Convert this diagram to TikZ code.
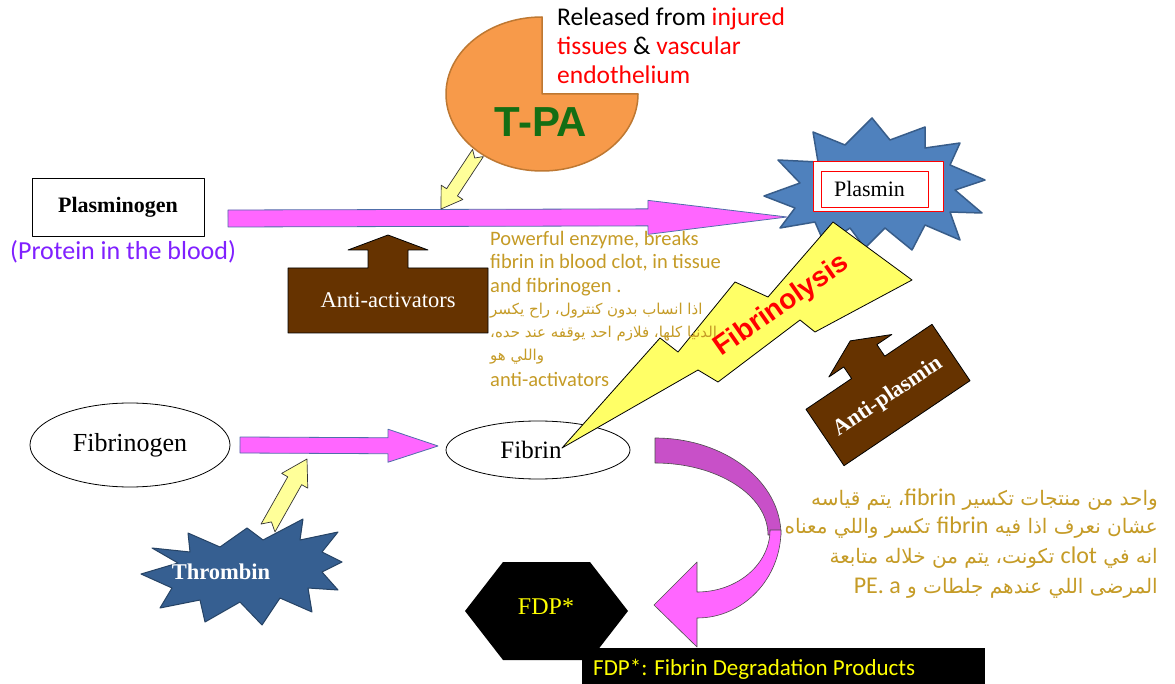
\documentclass[tikz,border=0pt]{standalone}
\usepackage{fontspec}
\setmainfont{Liberation Serif}
\newfontfamily\carlito{Carlito}
\newfontfamily\arialf{Liberation Sans}
\newfontfamily\arabicfont[Script=Arabic]{DejaVu Sans}
\TeXXeTstate=1
\usetikzlibrary{calc,shapes.geometric}
\definecolor{tpaOrange}{RGB}{247,154,74}
\definecolor{tpaEdge}{RGB}{190,120,50}
\definecolor{tpaGreen}{RGB}{20,110,20}
\definecolor{pinkA}{RGB}{255,102,255}
\definecolor{pinkEdge}{RGB}{80,110,170}
\definecolor{purpleA}{RGB}{200,80,200}
\definecolor{yellowA}{RGB}{255,255,153}
\definecolor{boltYellow}{RGB}{255,255,102}
\definecolor{brownA}{RGB}{102,51,0}
\definecolor{plBlue}{RGB}{79,129,189}
\definecolor{plBlueEdge}{RGB}{56,93,138}
\definecolor{thBlue}{RGB}{54,95,145}
\definecolor{goldT}{RGB}{197,155,38}
\definecolor{protPurple}{RGB}{128,32,255}
\definecolor{fdpYellow}{RGB}{255,255,0}
\newcommand\fsz[2]{\fontsize{#1pt}{#2pt}\selectfont}
\newcommand\blockarrow[8]{%
  \coordinate (#1h) at ($(#4)!#7!(#3)$);
  \coordinate (#1n) at ($(#3)!#8!(#4)$);
  \path[#2] ($(#3)!#5!90:(#4)$) -- ($(#1h)!#5!90:(#4)$) -- ($(#1h)!#6!90:(#4)$) -- (#4)
    -- ($(#1h)!#6!-90:(#4)$) -- ($(#1h)!#5!-90:(#4)$) -- ($(#3)!#5!-90:(#4)$) -- (#1n) -- cycle;}
\tikzset{
  pinkarrow/.style={fill=pinkA, draw=pinkEdge, line width=0.8pt},
  yelarrow/.style={fill=yellowA, draw=black!80, line width=0.7pt},
  brownshape/.style={fill=brownA, draw=black, line width=0.8pt},
  goldtext/.style={anchor=base west, inner sep=0pt, text=goldT, font=\carlito\fsz{20.5}{24}},
  goldar/.style={anchor=base west, inner sep=0pt, text=goldT, font=\arabicfont\fsz{15}{18}},
  brar/.style={anchor=base east, inner sep=0pt, text=goldT, font=\arabicfont\fsz{20}{24}},
  relt/.style={anchor=base west, inner sep=0pt, font=\carlito\fsz{25.5}{29}},
}
\newcommand\latin[1]{{\carlito\fsz{24}{28}\beginL #1\endL}}
\begin{document}
\begin{tikzpicture}[x=1pt,y=-1pt,line join=round]
\useasboundingbox (0,0) rectangle (1175,684);
\fill[white] (0,0) rectangle (1175,684);

% Plasmin burst
\filldraw[fill=plBlue, draw=plBlueEdge, line width=1.5pt]
 (764,196) -- (800,183) -- (778,160) -- (818,162) -- (813,132) -- (845,145) -- (872,118) -- (890,140)
 -- (925,127) -- (925,148) -- (960,143) -- (950,165) -- (985,180) -- (955,190) -- (982,213) -- (950,212)
 -- (960,240) -- (925,225) -- (912,250) -- (885,228) -- (865,248) -- (850,228) -- (825,245) -- (815,222)
 -- (780,228) -- (795,208) -- cycle;
\node[draw=red, fill=white, line width=1pt, minimum width=130pt, minimum height=50pt] (plbox) at (878,187) {};
\node[draw=red, line width=0.8pt, minimum width=107pt, minimum height=36pt, font=\fsz{22}{26}] (plasmin) at (874.5,189) {\kern-10pt Plasmin};

% T-PA pie
\filldraw[fill=tpaOrange, draw=tpaEdge, line width=1.5pt] (542,94) -- (638,94)
  arc[start angle=0, end angle=-270, x radius=96pt, y radius=77pt] -- cycle;
\node[font=\arialf\bfseries\fsz{42}{46}, text=tpaGreen] (tpa) at (541,122) {T-PA};
\node[relt] (rel1) at (557,26) {Released from \textcolor{red}{injured}};
\node[relt] (rel2) at (557,55) {\textcolor{red}{tissues} \& \textcolor{red}{vascular}};
\node[relt, text=red] (rel3) at (557,84) {endothelium};

% Plasminogen
\node[draw, line width=0.8pt, minimum width=172pt, minimum height=58pt, font=\bfseries\fsz{22}{26}] (plg) at (118,207) {Plasminogen};
\node[anchor=base west, inner sep=0pt, font=\carlito\fsz{26}{30}, text=protPurple] (prot) at (10,260) {(Protein in the blood)};

% pink arrow 1
\coordinate (pa1s) at (228,218.5);
\coordinate (pa1e) at (787,217);
\blockarrow{pa1}{pinkarrow}{pa1s}{pa1e}{8.5pt}{17pt}{139pt}{0pt}

% yellow arrow from T-PA
\coordinate (ya1s) at (478,153);
\coordinate (ya1e) at (441,209);
\blockarrow{ya1}{yelarrow}{ya1s}{ya1e}{6.5pt}{13pt}{20pt}{6pt}

% Anti-activators
\path[brownshape] (288,268) -- (368,268) -- (368,250) -- (348,250) -- (388,235) -- (428,250) -- (408,250)
  -- (408,268) -- (488,268) -- (488,333) -- (288,333) -- cycle;
\node[text=white, font=\fsz{22.5}{26}] (antiact) at (388,300) {Anti-activators};

% Fibrinogen
\node[draw, ellipse, line width=0.8pt, minimum width=200pt, minimum height=84pt, font=\fsz{26}{30}] (fbg) at (130,445) {Fibrinogen};
\coordinate (pa2s) at (240,445);
\coordinate (pa2e) at (438,446);
\blockarrow{pa2}{pinkarrow}{pa2s}{pa2e}{8pt}{16.5pt}{50pt}{0pt}

% Thrombin burst
\filldraw[fill=thBlue, draw=thBlue!70!black, line width=1pt]
 (141,574) -- (178,563) -- (152,548) -- (190,552) -- (188,533) -- (220,547) -- (247,528) -- (263,540)
 -- (303,519) -- (300,540) -- (338,532) -- (322,552) -- (342,562) -- (322,572) -- (338,590) -- (308,588)
 -- (312,612) -- (280,598) -- (262,625) -- (240,602) -- (205,622) -- (200,600) -- (160,608) -- (172,588) -- cycle;
\node[text=white, font=\bfseries\fsz{22.5}{26}] (thr) at (221,572) {Thrombin};
\coordinate (ya2s) at (268,528);
\coordinate (ya2e) at (307,459);
\blockarrow{ya2}{yelarrow}{ya2s}{ya2e}{8pt}{15pt}{25pt}{7pt}

% Fibrin
\node[draw, ellipse, line width=0.8pt, minimum width=184pt, minimum height=58pt, font=\fsz{25}{30}] (fib) at (538,450) {\kern-14pt Fibrin};

% Fibrinolysis bolt
\filldraw[fill=boltYellow, draw=black, line width=0.8pt]
 (562,448) -- (660,338) -- (678,352) -- (735,282) -- (768,297) -- (833,222) -- (912,280) -- (815,332)
 -- (800,320) -- (718,382) -- (698,370) -- cycle;
\node[rotate=35, text=red, font=\arialf\bfseries\fsz{28}{32}] (fbl) at (782,306) {Fibrinolysis};

% gold text
\node[goldtext] (pw1) at (490,246) {Powerful enzyme, breaks};
\node[goldtext] (pw2) at (490,269) {fibrin in blood clot, in tissue};
\node[goldtext] (pw3) at (490,293) {and fibrinogen .};
\node[goldar] (ar1) at (490,315) {\beginR اذا انساب بدون كنترول، راح يكسر\endR};
\node[goldar] (ar2) at (490,338) {\beginR الدنيا كلها، فلازم احد يوقفه عند حده،\endR};
\node[goldar] (ar3) at (490,361) {\beginR واللي هو\endR};
\node[goldtext] (pw4) at (490,387) {anti-activators};

% Anti-plasmin
\begin{scope}[shift={(888,395)}, rotate=34]
\path[brownshape] (-76,-34) -- (-21,-34) -- (-21,-48) -- (-39,-48) -- (-1,-66) -- (37,-48) -- (19,-48)
  -- (19,-34) -- (76,-34) -- (76,34) -- (-76,34) -- cycle;
\end{scope}
\node[rotate=34, text=white, font=\bfseries\fsz{22.5}{26}] (antipl) at (888,397) {Anti-plasmin};

% curved arrow
\filldraw[fill=purpleA, draw=black!70, line width=0.6pt] (655,438)
  arc[start angle=90, end angle=0, x radius=126pt, y radius=97pt] -- (768,535)
  arc[start angle=0, end angle=90, x radius=113pt, y radius=72pt] -- cycle;
\filldraw[fill=pinkA, draw=black!70, line width=0.6pt] (781,530)
  arc[start angle=0, end angle=-90, x radius=84pt, y radius=88pt] -- (697,647) -- (654,605) -- (697,562) -- (697,592)
  arc[start angle=-90, end angle=0, x radius=73pt, y radius=62pt] -- cycle;

% FDP
\fill[black] (465,611) -- (503,562) -- (590,562) -- (628,611) -- (590,660) -- (503,660) -- cycle;
\node[text=fdpYellow, font=\fsz{24}{28}] (fdp) at (546,607) {FDP*};
\fill[black] (582,648) rectangle (985,684);
\node[anchor=base west, inner sep=0pt, text=fdpYellow, font=\carlito\fsz{23}{27}] (fdpdef) at (593,675) {FDP*: Fibrin Degradation Products};

% Arabic block bottom right
\node[brar] (br1) at (1158,505) {\beginR واحد من منتجات تكسير \latin{fibrin}، يتم قياسه\endR};
\node[brar] (br2) at (1158,533) {\beginR عشان نعرف اذا فيه \latin{fibrin} تكسر واللي معناه\endR};
\node[brar] (br3) at (1158,563) {\beginR انه في \latin{clot} تكونت، يتم من خلاله متابعة\endR};
\node[brar] (br4) at (1158,593) {\beginR المرضى اللي عندهم جلطات و \latin{PE. a}\endR};
\end{tikzpicture}
\end{document}
